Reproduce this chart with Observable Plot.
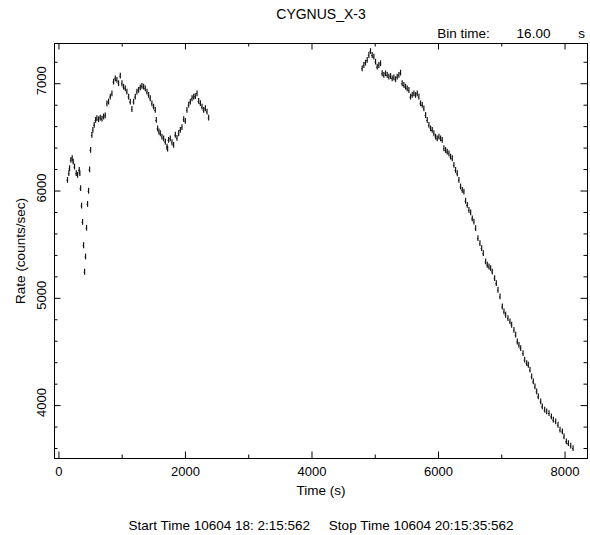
<!DOCTYPE html>
<html>
<head>
<meta charset="utf-8">
<script src="https://cdn.jsdelivr.net/npm/d3@7"></script>
<script src="https://cdn.jsdelivr.net/npm/@observablehq/plot@0.6"></script>
<style>
  html, body { margin: 0; padding: 0; background: #fff; }
  #chart svg { display: block; }
</style>
</head>
<body>
<div id="chart"></div>
<script>
// ---- Data (time in s, rate in counts/sec) ----
const seg1Time = [136,157,168,189,210,226,247,274,295,321,331,343,358,374,390,406,421,437,453,469,485,501,521,
  537,558,580,600,627,653,680,706,732,759,785,812,838,864,891,917,943,970,996,1022,1049,1075,1102,1128,1154,
  1181,1207,1233,1260,1286,1312,1339,1365,1392,1418,1444,1470,1497,1523,1539,1560,1581,1603,1629,1655,1682,
  1708,1718,1734,1760,1787,1813,1840,1866,1893,1919,1945,1972,1998,2024,2051,2077,2104,2130,2156,2183,2209,
  2236,2262,2288,2315,2341,2367];
const seg1Rate = [6099,6162,6208,6286,6301,6270,6223,6162,6146,6192,6162,6022,5860,5708,5490,5243,5385,5653,5875,5998,6197,6379,6518,
  6565,6612,6658,6674,6665,6680,6670,6690,6700,6813,6829,6875,6906,7015,7046,7031,7000,7070,7000,6968,6953,6922,6875,6829,6760,
  6829,6875,6922,6938,6962,6975,6968,6953,6922,6891,6860,6813,6782,6751,6658,6580,6550,6534,6503,6487,6456,
  6410,6390,6472,6487,6450,6425,6520,6490,6534,6565,6590,6665,6650,6751,6800,6829,6860,6875,6880,6906,6835,
  6815,6782,6751,6767,6736,6680];
const seg2Time = [4794,4820,4846,4873,4899,4925,4952,4978,5005,5031,5057,5084,5110,5136,5163,5189,5215,5242,5268,5295,
  5321,5347,5374,5400,5426,5453,5479,5505,5532,5558,5585,5611,5637,5664,5690,5716,5743,5769,5796,5822,5848,5875,
  5901,5927,5954,5980,6007,6033,6059,6086,6112,6138,6165,6191,6218,6244,6270,6297,6323,6349,6376,6402,6428,6455,
  6481,6508,6534,6560,6587,6624,6655,6682,6708,6745,6771,6798,6824,6850,6887,6914,6940,6972,7009,7035,7061,7098,
  7130,7156,7193,7220,7246,7272,7299,7336,7362,7394,7420,7446,7473,7499,7525,7552,7578,7615,7641,7678,7710,7747,
  7784,7815,7852,7889,7921,7958,7984,8021,8053,8090,8127];
const seg2Rate = [7139,7170,7192,7217,7263,7300,7263,7248,7201,7155,7170,7186,7093,7077,7093,7077,7061,7068,7046,7055,
  7037,7061,7077,7099,7000,6984,6968,6953,6937,6875,6891,6906,6891,6906,6875,6813,6798,6766,6704,6658,6611,6580,
  6565,6534,6503,6487,6503,6487,6472,6394,6378,6363,6347,6316,6301,6239,6192,6161,6099,6037,6006,5990,5905,5866,
  5820,5797,5740,5711,5649,5556,5509,5463,5416,5339,5308,5292,5277,5245,5183,5137,5075,5013,4919,4873,4842,4811,
  4780,4749,4702,4656,4593,4562,4531,4485,4423,4392,4376,4330,4267,4221,4174,4128,4081,4035,3988,3957,3941,3926,
  3895,3864,3848,3817,3771,3755,3708,3662,3646,3622,3600];
const binHalfWidth = 8;     // half of the 16 s bin
const rateError = 27;       // typical 1-sigma error (counts/sec)

const xMajorTicks = [0, 2000, 4000, 6000, 8000];
const xMinorTicks = [1000, 3000, 5000, 7000];
const yMajorTicks = [4000, 5000, 6000, 7000];
const yMinorTicks = [3600, 3800, 4200, 4400, 4600, 4800, 5200, 5400, 5600, 5800, 6200, 6400, 6600, 6800, 7200];

const titleText = "CYGNUS_X-3";
const binLabel = ["Bin time:", "16.00", "s"];
const xLabel = "Time (s)";
const yLabel = "Rate (counts/sec)";
const footerText = "Start Time 10604 18: 2:15:562     Stop Time 10604 20:15:35:562";

// ---- table ----
const data = [
  ...seg1Time.map((t, i) => ({t, rate: seg1Rate[i]})),
  ...seg2Time.map((t, i) => ({t, rate: seg2Rate[i]}))
];

const W = 590, H = 535;
const mL = 54, mR = 3, mT = 43, mB = 77;
const frameH = H - mT - mB;
const frameW = W - mL - mR;
const majorLen = 6.5, minorLen = 3.5;
const font = "'Liberation Sans', 'DejaVu Sans', sans-serif";
const txt = {fill: "#000", lineAnchor: "middle", textAnchor: "middle"};

const plot = Plot.plot({
  width: W,
  height: H,
  marginLeft: mL,
  marginRight: mR,
  marginTop: mT,
  marginBottom: mB,
  style: {fontFamily: font, fontSize: "13px", color: "#000", background: "#fff", overflow: "visible"},
  x: {domain: [-70, 8355], axis: null},
  y: {domain: [3507, 7375], axis: null},
  marks: [
    // error bars
    Plot.ruleX(data, {x: "t", y1: d => d.rate - rateError, y2: d => d.rate + rateError, stroke: "#151515", strokeWidth: 1.2}),
    Plot.ruleY(data, {y: "rate", x1: d => d.t - binHalfWidth, x2: d => d.t + binHalfWidth, stroke: "#151515", strokeWidth: 1.1}),
    // frame
    Plot.frame({stroke: "#000", strokeWidth: 1}),
    // inward ticks: bottom / top
    Plot.tickX(xMajorTicks, {x: d => d, insetTop: frameH - majorLen, stroke: "#000"}),
    Plot.tickX(xMajorTicks, {x: d => d, insetBottom: frameH - majorLen, stroke: "#000"}),
    Plot.tickX(xMinorTicks, {x: d => d, insetTop: frameH - minorLen, stroke: "#000"}),
    Plot.tickX(xMinorTicks, {x: d => d, insetBottom: frameH - minorLen, stroke: "#000"}),
    // inward ticks: left / right
    Plot.tickY(yMajorTicks, {y: d => d, insetRight: frameW - majorLen, stroke: "#000"}),
    Plot.tickY(yMajorTicks, {y: d => d, insetLeft: frameW - majorLen, stroke: "#000"}),
    Plot.tickY(yMinorTicks, {y: d => d, insetRight: frameW - minorLen, stroke: "#000"}),
    Plot.tickY(yMinorTicks, {y: d => d, insetLeft: frameW - minorLen, stroke: "#000"}),
    // tick labels
    Plot.text(xMajorTicks, {...txt, x: d => d, text: d => String(d), frameAnchor: "bottom", dy: 13, fontSize: 13, letterSpacing: "0.3px"}),
    Plot.text(yMajorTicks, {...txt, y: d => d, text: d => String(d), frameAnchor: "left", dx: -13, dy: -3, rotate: -90, fontSize: 13, letterSpacing: "0.3px"}),
    // axis labels
    Plot.text([xLabel], {...txt, frameAnchor: "bottom", dy: 32, fontSize: 13.5, letterSpacing: "0.6px"}),
    Plot.text([yLabel], {...txt, frameAnchor: "left", dx: -34, rotate: -90, fontSize: 13.5, letterSpacing: "0.6px"}),
    // title, bin time, footer
    Plot.text([titleText], {...txt, frameAnchor: "top", dy: -29, fontSize: 14, letterSpacing: "2.6px"}),
    Plot.text([binLabel[0]], {...txt, frameAnchor: "top-left", dx: 409, dy: -10, fontSize: 13.5, letterSpacing: "0.6px"}),
    Plot.text([binLabel[1]], {...txt, frameAnchor: "top-left", dx: 479, dy: -10, fontSize: 13.5, letterSpacing: "0.6px"}),
    Plot.text([binLabel[2]], {...txt, frameAnchor: "top-left", dx: 527, dy: -10, fontSize: 13.5}),
    Plot.text([footerText], {...txt, frameAnchor: "bottom", dy: 67, fontSize: 13.5, letterSpacing: "0.5px"})
  ]
});

document.getElementById("chart").appendChild(plot);
</script>
</body>
</html>
